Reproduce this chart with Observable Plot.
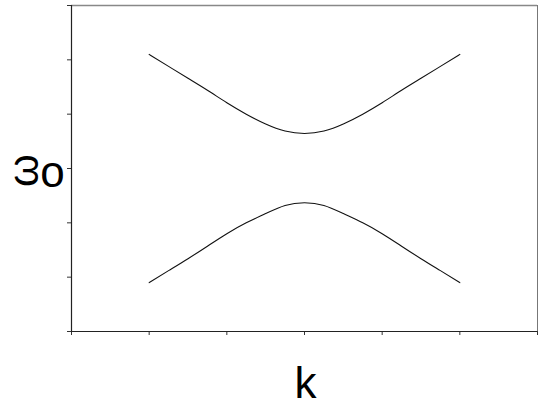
<!DOCTYPE html>
<html>
<head>
<meta charset="utf-8">
<script src="https://cdn.jsdelivr.net/npm/d3@7"></script>
<script src="https://cdn.jsdelivr.net/npm/@observablehq/plot@0.6"></script>
<style>
  html, body { margin: 0; padding: 0; background: #fff; }
  svg { display: block; }
</style>
</head>
<body>
<div id="chart"></div>
<script>
// Wave number samples and the two dispersion branches (upper and lower)
const k = [-2, -1.75, -1.5, -1.25, -1, -0.75, -0.5, -0.25, 0, 0.25, 0.5, 0.75, 1, 1.25, 1.5, 1.75, 2];
const upper = [2.10, 1.88, 1.66, 1.44, 1.21, 1.00, 0.82, 0.69, 0.645, 0.69, 0.82, 1.00, 1.21, 1.44, 1.66, 1.88, 2.10];
const lower = [-2.10, -1.88, -1.66, -1.43, -1.20, -1.00, -0.83, -0.68, -0.63, -0.68, -0.83, -1.00, -1.20, -1.43, -1.66, -1.88, -2.10];

// Tick positions (unlabelled) on both axes
const xTicks = [-3, -2, -1, 0, 1, 2, 3];
const yTicks = [-3, -2, -1, 0, 1, 2, 3];

const upperRows = k.map((v, i) => ({k: v, w: upper[i]}));
const lowerRows = k.map((v, i) => ({k: v, w: lower[i]}));

const font = "Liberation Sans, Arial, sans-serif";

const chart = Plot.plot({
  width: 540,
  height: 409,
  marginLeft: 71,
  marginRight: 3,
  marginTop: 5,
  marginBottom: 78,
  style: {fontFamily: font, background: "#fff"},
  x: {domain: [-3, 3]},
  y: {domain: [-3, 3]},
  marks: [
    Plot.axisX({ticks: xTicks, tickSize: 4, tickFormat: () => "", label: null, stroke: "#333"}),
    Plot.axisY({ticks: yTicks, tickSize: 4, tickFormat: () => "", label: null, stroke: "#333"}),
    // box: darker left/bottom, lighter top/right
    Plot.ruleY([3], {stroke: "#888", strokeWidth: 1.5}),
    Plot.ruleX([3], {stroke: "#777", strokeWidth: 1}),
    Plot.ruleX([-3], {stroke: "#222", strokeWidth: 1.2}),
    Plot.ruleY([-3], {stroke: "#222", strokeWidth: 1.2}),
    Plot.line(upperRows, {x: "k", y: "w", curve: "natural", stroke: "#111", strokeWidth: 1.1}),
    Plot.line(lowerRows, {x: "k", y: "w", curve: "natural", stroke: "#111", strokeWidth: 1.1}),
    // axis titles
    Plot.text(["k"], {frameAnchor: "bottom", text: d => d, fontSize: 44, fill: "#000",
      textAnchor: "middle", lineAnchor: "bottom", dy: 66, dx: 1}),
    Plot.text(["ω"], {frameAnchor: "left", y: [0], text: d => d, fontSize: 42, fill: "#000",
      textAnchor: "middle", lineAnchor: "middle", rotate: -90, dx: -47, dy: 2}),
    Plot.text(["o"], {frameAnchor: "left", y: [0], text: d => d, fontSize: 44, fill: "#000",
      textAnchor: "middle", lineAnchor: "middle", dx: -19, dy: 4})
  ]
});

document.getElementById("chart").appendChild(chart);
</script>
</body>
</html>
